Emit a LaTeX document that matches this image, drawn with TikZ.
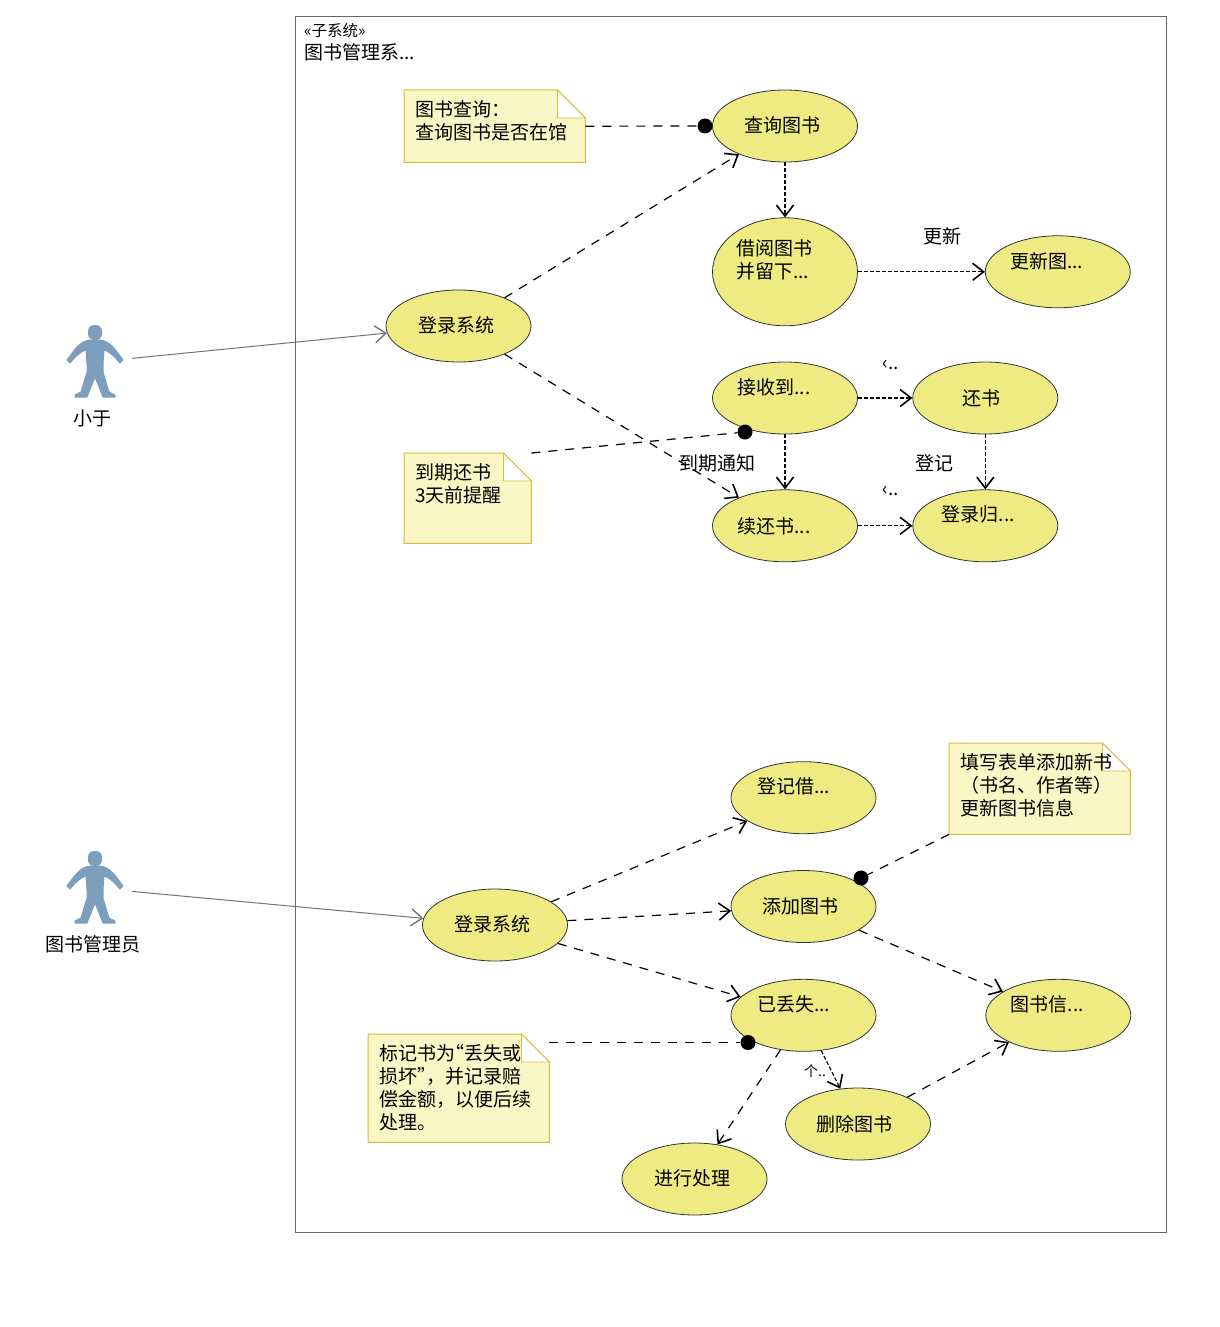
\documentclass[tikz,border=0pt]{standalone}
\usepackage{fontspec}
\setmainfont{Noto Sans CJK SC}
\usepackage{xcolor}
\usetikzlibrary{shapes,arrows.meta,positioning,backgrounds,calc}

\definecolor{usecasefill}{HTML}{EEEB82}
\definecolor{notefill}{HTML}{FBF6C5}
\definecolor{noteline}{HTML}{D6BC3F}
\definecolor{actorblue}{HTML}{7D9FBE}

\newcommand{\bodyfont}{\fontsize{19}{23}\selectfont}
% folded note outline behind a named note node
\newcommand{\foldnote}[1]{
\begin{scope}[on background layer]
\draw[noteline, fill=notefill, line width=1pt] (#1.north west) -- ([xshift=-28pt]#1.north east) -- ([yshift=-28pt]#1.north east) -- (#1.south east) -- (#1.south west) -- cycle;
\draw[noteline, fill=white, line width=0.8pt] ([xshift=-28pt]#1.north east) -- ([xshift=-28pt,yshift=-28pt]#1.north east) -- ([yshift=-28pt]#1.north east) -- cycle;
\end{scope}
}
% stick figure around a named actor node
\newcommand{\actorfig}[1]{
\begin{scope}[on background layer, shift={(#1.center)}]
\fill[actorblue, rounded corners=6pt] (-7,-37) rectangle (7,-22);
\fill[actorblue, draw=actorblue, line width=1pt, line join=round] (-4,-22) -- (4,-22) .. controls (15,-22) and (22,-10) .. (28,-2) -- (25,1) .. controls (20,-5) and (14,-11) .. (9,-12) -- (8,2) -- (8,10) -- (14,30) -- (20,33) -- (20,35) -- (8,35) -- (0,15) -- (-8,35) -- (-20,35) -- (-20,33) -- (-14,30) -- (-8,10) -- (-8,2) -- (-9,-12) .. controls (-14,-11) and (-20,-5) .. (-25,1) -- (-28,-2) .. controls (-22,-10) and (-15,-22) .. (-4,-22) -- cycle;
\end{scope}
}

\begin{document}
\begin{tikzpicture}[
    x=1pt, y=-1pt,
    every node/.style={font=\bodyfont},
    usecase/.style={ellipse, draw=black!80, fill=usecasefill, line width=0.8pt, minimum width=145pt, minimum height=72pt, inner sep=0pt},
    notebox/.style={rectangle, anchor=north west, inner sep=0pt},
    notetext/.style={label={[anchor=north west, align=left, inner sep=0pt, shift={(11,10)}]north west:{#1}}},
    actorbox/.style={rectangle, minimum width=74pt, minimum height=74pt, inner sep=0pt},
    ball/.style={circle, fill=black, minimum size=15pt, inner sep=0pt},
    dep/.style={->, >={Straight Barb[length=11pt,width=17pt,line width=1.6pt]}, line width=1.2pt, dash pattern=on 9pt off 8pt},
    depshort/.style={->, >={Straight Barb[length=11pt,width=17pt,line width=1.6pt]}, line width=1.1pt, dash pattern=on 4pt off 2pt},
    notelink/.style={line width=1.2pt, dash pattern=on 9pt off 8pt},
    assoc/.style={->, >={Straight Barb[length=11pt,width=17pt,line width=1.4pt]}, draw=black!55, line width=1pt},
]
\useasboundingbox (0,0) rectangle (1219,1327);

% Subsystem frame
\draw[black!60, line width=1pt] (295,17) rectangle (1166,1232);
\node[anchor=west, inner sep=0pt, font=\fontsize{15.5}{17}\selectfont] (stereo) at (304,31) {«子系统»};
\node[anchor=west, inner sep=0pt] (subsys) at (304,52) {图书管理系...};

% Reader use cases
\node[usecase, label={[shift={(-3,-1)}]center:查询图书}] (query) at (785,126) {};
\node[usecase, minimum height=108pt, below=55pt of query, label={[align=left, shift={(-11,-12)}]center:借阅图书\\并留下...}] (borrow) {};
\node[usecase, right=127pt of borrow, label={[shift={(-11,-11)}]center:更新图...}] (renew) {};
\node[usecase, label={[shift={(-2,-1)}]center:登录系统}] (loginA) at (458.5,326) {};
\node[usecase, label={[shift={(-11,-11)}]center:接收到...}] (receive) at (785,398) {};
\node[usecase, right=54.5pt of receive, label={[shift={(-4,0)}]center:还书}] (giveback) {};
\node[usecase, below=55pt of receive, label={[shift={(-11,0)}]center:续还书...}] (extend) {};
\node[usecase, right=54.5pt of extend, label={[shift={(-7,-11)}]center:登录归...}] (checkin) {};

% Librarian use cases
\node[usecase, label={[shift={(-3,0)}]center:添加图书}] (addbook) at (803.5,906.5) {};
\node[usecase, above=36pt of addbook, label={[shift={(-10,-11)}]center:登记借...}] (record) {};
\node[usecase, below=36pt of addbook, label={[shift={(-10,-11)}]center:已丢失...}] (lost) {};
\node[usecase, right=109pt of lost, label={[shift={(-11,-11)}]center:图书信...}] (bookinfo) {};
\node[usecase, label={[shift={(-3,-1)}]center:登录系统}] (loginB) at (495,925) {};
\node[usecase, label={[shift={(-4,0)}]center:删除图书}] (delbook) at (858,1124) {};
\node[usecase, label={[shift={(-2,-1)}]center:进行处理}] (process) at (694.5,1179) {};

% Actors
\node[actorbox] (reader) at (95,362) {};
\actorfig{reader}
\node[below=10pt of reader, xshift=-3pt, inner sep=0pt] (readername) {小于};
\node[actorbox] (admin) at (95,888) {};
\actorfig{admin}
\node[below=10pt of admin, xshift=-2pt, inner sep=0pt] (adminname) {图书管理员};

% Notes
\node[notebox, minimum width=181pt, minimum height=72pt, notetext={图书查询：\\查询图书是否在馆}] (noteA) at (404,90) {};
\foldnote{noteA}
\node[notebox, minimum width=127pt, minimum height=90pt, notetext={到期还书\\3天前提醒}] (noteB) at (404,453) {};
\foldnote{noteB}
\node[notebox, minimum width=181pt, minimum height=91pt, notetext={填写表单添加新书\\（书名、作者等）\\更新图书信息}] (noteC) at (949,743) {};
\foldnote{noteC}
\node[notebox, minimum width=181pt, minimum height=108pt, notetext={标记书为\kern-10pt“\kern0pt丢失或\\损坏”\kern-10pt，并记录赔\\偿金额，以便后续\\处理。}] (noteD) at (368,1034) {};
\foldnote{noteD}

% Note anchors on the use cases
\node[ball] (ballA) at (705,126) {};
\node[ball] (ballB) at (745,432) {};
\node[ball] (ballC) at (861,878) {};
\node[ball] (ballD) at (748,1042.5) {};
\draw[notelink] (noteA.east) -- (ballA);
\draw[notelink] (noteB.north east) -- (ballB);
\draw[notelink] (noteC.south west) -- (ballC);
\draw[notelink] (noteD.north east |- ballD) -- (ballD);

% Arrows
\draw[assoc] (reader) -- (loginA);
\draw[assoc] (admin) -- (loginB);
\draw[dep] (loginA) -- (query);
\draw[dep] (loginA) -- (extend);
\draw[depshort] (query) -- (borrow);
\draw[depshort] (borrow) -- (renew);
\draw[depshort] (receive) -- (giveback);
\draw[depshort] (receive) -- (extend);
\draw[depshort] (giveback) -- (checkin);
\draw[depshort] (extend) -- (checkin);
\draw[dep] (loginB) -- (record);
\draw[dep] (loginB) -- (addbook);
\draw[dep] (loginB) -- (lost);
\draw[dep] (addbook) -- (bookinfo);
\draw[depshort] (lost) -- (delbook);
\draw[dep] (lost) -- (process);
\draw[dep] (delbook) -- (bookinfo);

% Connector labels
\node[inner sep=0pt] (renewtag) at (942,236) {更新};
\node[inner sep=0pt] (recordtag) at (934,463) {登记};
\node[inner sep=0pt] (duetag) at (717,463) {到期通知};
\node[inner sep=0pt] (inclA) at (891,365) {‹..};
\node[inner sep=0pt] (inclB) at (891,491) {‹..};
\node[inner sep=0pt, font=\fontsize{14}{16}\selectfont] (inclC) at (815,1071) {个..};
\end{tikzpicture}
\end{document}
